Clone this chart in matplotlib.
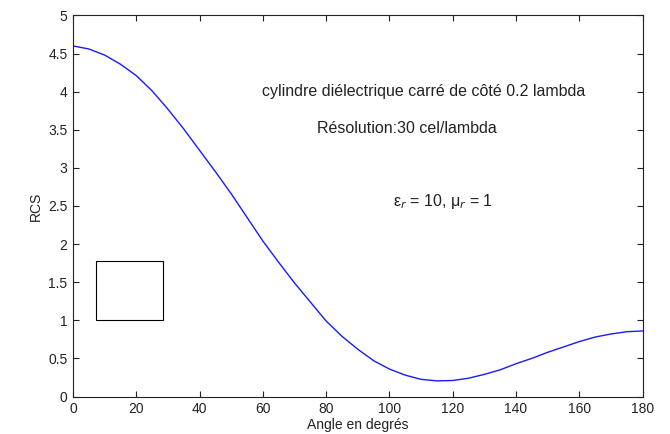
import matplotlib
matplotlib.use("Agg")
import matplotlib.pyplot as plt
from matplotlib.patches import Rectangle

plt.rcParams['font.family'] = ['Liberation Sans', 'DejaVu Sans']

angles = [0, 5, 10, 15, 20, 25, 30, 35, 40, 45, 50, 55, 60, 65, 70, 75, 80, 85, 90,
          95, 100, 105, 110, 115, 120, 125, 130, 135, 140, 145, 150, 155, 160, 165,
          170, 175, 180]
rcs = [4.60, 4.56, 4.48, 4.36, 4.21, 4.01, 3.77, 3.51, 3.23, 2.95, 2.66, 2.35, 2.04,
       1.76, 1.49, 1.24, 0.99, 0.79, 0.62, 0.47, 0.36, 0.28, 0.225, 0.205, 0.21, 0.24,
       0.29, 0.35, 0.43, 0.50, 0.58, 0.65, 0.72, 0.78, 0.82, 0.85, 0.86]

xticks = [0, 20, 40, 60, 80, 100, 120, 140, 160, 180]
yticks = [0, 0.5, 1, 1.5, 2, 2.5, 3, 3.5, 4, 4.5, 5]
ytick_labels = ['0', '0.5', '1', '1.5', '2', '2.5', '3', '3.5', '4', '4.5', '5']

# inset square (data units)
square_x0, square_y0, square_w, square_h = 7.2, 1.0, 21.3, 0.78

fig = plt.figure(figsize=(6.7, 4.34), dpi=100)
ax = fig.add_axes([0.109, 0.0864, 0.850, 0.878])
ax.plot(angles, rcs, color='#1a1aff', lw=1.0)
ax.add_patch(Rectangle((square_x0, square_y0), square_w, square_h,
                       fill=False, edgecolor='black', lw=0.8))

ax.set_xlim(0, 180)
ax.set_ylim(0, 5)
ax.set_xticks(xticks)
ax.set_yticks(yticks)
ax.set_yticklabels(ytick_labels)
ax.tick_params(direction='in', length=4, width=0.8, top=True, right=True,
               labelsize=10, colors='#222222', pad=4)
for s in ax.spines.values():
    s.set_color('#222222')
    s.set_linewidth(0.8)

ax.set_xlabel('Angle en degrés', fontsize=10, color='#222222', labelpad=1.5)
ax.set_ylabel('RCS', fontsize=10, color='#222222', labelpad=4)

txt_font = dict(fontsize=11.5, color='#222222', va='center', ha='left')
ax.text(59.6, 4.0, 'cylindre diélectrique carré de côté 0.2 lambda', **txt_font)
ax.text(77.2, 3.52, 'Résolution:30 cel/lambda', **txt_font)
ax.text(101, 2.56, r'ε$_r$ = 10, μ$_r$ = 1', **txt_font)

fig.savefig('out.png', dpi=100)
